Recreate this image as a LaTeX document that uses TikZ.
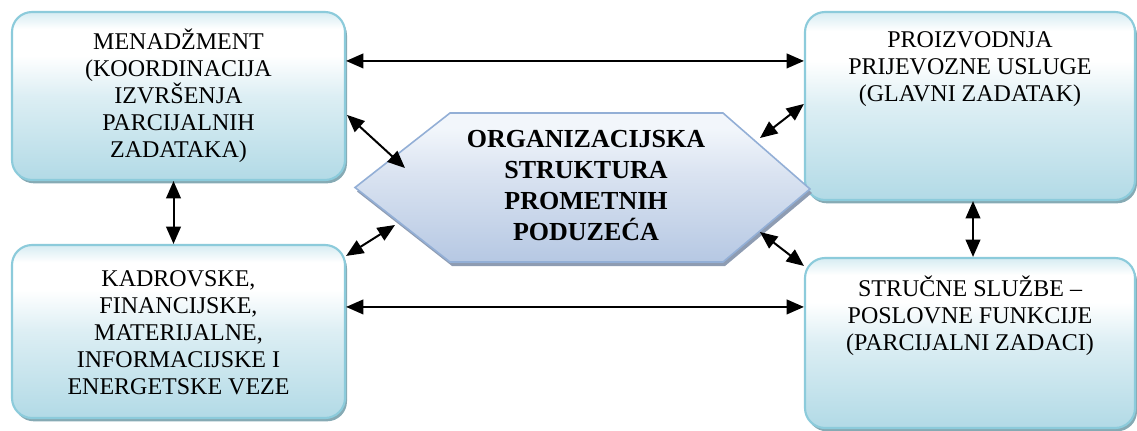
\documentclass[tikz,border=0pt]{standalone}
\usepackage{fontspec}
\setmainfont{Liberation Serif}
\usetikzlibrary{arrows.meta,calc,shadows}
\definecolor{boxborder}{HTML}{8CCBDB}
\definecolor{boxtop}{HTML}{D6ECF2}
\definecolor{boxbot}{HTML}{B2DAE6}
\definecolor{boxshadow}{HTML}{86AAB4}
\definecolor{hexborder}{HTML}{93AFD6}
\definecolor{hextop}{HTML}{F2F6FB}
\definecolor{hexbot}{HTML}{B6C8E3}
\definecolor{hexshadow}{HTML}{8E9CB2}
\pgfdeclareverticalshading{boxshade}{100bp}{color(0bp)=(boxbot); color(25bp)=(boxbot); color(50bp)=(boxbot!45!white); color(62bp)=(white); color(70bp)=(white); color(75bp)=(boxtop); color(100bp)=(boxtop)}
\pgfdeclareverticalshading{hexshade}{100bp}{color(0bp)=(hexbot); color(25bp)=(hexbot); color(55bp)=(hexbot!50!white); color(70bp)=(hextop); color(75bp)=(hextop); color(100bp)=(hextop)}
\tikzset{
  x=0.75pt, y=-0.75pt,
  ubox/.style={rectangle, rounded corners=15pt, draw=boxborder, line width=1.6pt,
    shading=boxshade, inner sep=0pt,
    drop shadow={shadow xshift=1.5pt, shadow yshift=-2.5pt, fill=boxshadow, opacity=1}},
  btxt/.style={align=center, inner sep=0pt, font=\fontsize{18pt}{20.25pt}\selectfont},
  htxt/.style={align=center, inner sep=0pt, font=\fontsize{19.5pt}{23.25pt}\selectfont\bfseries},
  hexshape/.style={draw=hexborder, line width=1.2pt, shading=hexshade,
    drop shadow={shadow xshift=1.5pt, shadow yshift=-3pt, fill=hexshadow, opacity=1}},
  arr/.style={line width=1.5pt, {Triangle[length=13pt,width=11pt]}-{Triangle[length=13pt,width=11pt]}}
}
\begin{document}
\begin{tikzpicture}
\useasboundingbox (0,0) rectangle (1137,430);
% boxes
\node[ubox, minimum width=333*0.75pt, minimum height=168*0.75pt] (tl) at (178.5,96) {};
\node[ubox, minimum width=333*0.75pt, minimum height=173*0.75pt] (bl) at (178.5,331.5) {};
\node[ubox, minimum width=330*0.75pt, minimum height=188*0.75pt] (tr) at (970,106) {};
\node[ubox, minimum width=330*0.75pt, minimum height=170*0.75pt] (br) at (970,343) {};
% box texts
\node[btxt] (tlt) at ($(tl.center)+(0,0)$) {MENADŽMENT\\(KOORDINACIJA\\IZVRŠENJA\\PARCIJALNIH\\ZADATAKA)};
\node[btxt] (blt) at ($(bl.center)+(0,1.5)$) {KADROVSKE,\\FINANCIJSKE,\\MATERIJALNE,\\INFORMACIJSKE I\\ENERGETSKE VEZE};
\node[btxt] (trt) at ($(tr.north)+(0,58)$) {PROIZVODNJA\\PRIJEVOZNE USLUGE\\(GLAVNI ZADATAK)};
\node[btxt] (brt) at ($(br.north)+(0,59)$) {STRUČNE SLUŽBE –\\POSLOVNE FUNKCIJE\\(PARCIJALNI ZADACI)};
% hexagon
\coordinate (hc) at (582,187.5);
\path[hexshape] ($(hc)+(-227,0)$) -- ($(hc)+(-132,-74.5)$) -- ($(hc)+(141,-74.5)$)
  -- ($(hc)+(228,1.5)$) -- ($(hc)+(141,74.5)$) -- ($(hc)+(-132,74.5)$) -- cycle;
\node[htxt] (hex) at ($(hc)+(4,-1.5)$) {ORGANIZACIJSKA\\STRUKTURA\\PROMETNIH\\PODUZEĆA};
% connectors
\coordinate (a1) at ($(tl.north east)+(0,50)$);
\draw[arr] (a1) -- (a1 -| tr.west);
\coordinate (a2) at ($(bl.north east)+(0,63)$);
\draw[arr] (a2) -- (a2 -| br.west);
\coordinate (a3) at ($(tl.south)+(-5,0)$);
\draw[arr] (a3) -- (a3 |- bl.north);
\coordinate (a4) at ($(tr.south)+(3,0)$);
\draw[arr] (a4) -- (a4 |- br.north);
\draw[arr] ($(tl.north east)+(1,104)$) -- ($(hc)+(-177,-19.5)$);
\draw[arr] ($(bl.north east)+(0,12)$) -- ($(hc)+(-187,37.5)$);
\draw[arr] ($(tr.north west)+(0,93)$) -- ($(hc)+(178,-49.5)$);
\draw[arr] ($(br.north west)+(0,9)$) -- ($(hc)+(178,44.5)$);
\end{tikzpicture}
\end{document}
